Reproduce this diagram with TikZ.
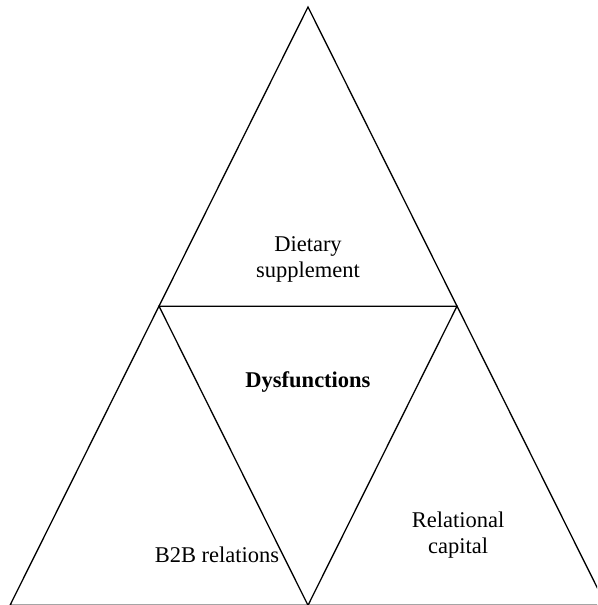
\documentclass[tikz,border=0pt]{standalone}
\usepackage{fontspec}
\setmainfont{Liberation Serif}
\usetikzlibrary{calc}
\begin{document}
\begin{tikzpicture}[x=1pt,y=-1pt,
  edge/.style={line width=1.3pt, line join=miter},
  lbl/.style={align=center, inner sep=0pt, font=\fontsize{22.5}{26}\selectfont}]
  \useasboundingbox (0,0) rectangle (597,605);
  \clip (0,0) rectangle (597,605);
  % Sommets du grand triangle
  \coordinate (apex) at (308,7);
  \coordinate (baseL) at (10,605.3);
  \coordinate (baseR) at (606,605.3);
  % Milieux des c\^ot\'es
  \coordinate (midL) at ($(apex)!0.5!(baseL)$);
  \coordinate (midR) at ($(apex)!0.5!(baseR)$);
  \coordinate (midB) at ($(baseL)!0.5!(baseR)$);
  % Contour et triangle central
  \draw[edge] (apex) -- (baseL) -- (baseR) -- cycle;
  \draw[edge] (midL) -- (midR) -- (midB) -- cycle;
  % \'Etiquettes
  \node[lbl] (supp) at (308,259) {Dietary\\supplement};
  \node[lbl, font=\fontsize{22.5}{26}\selectfont\bfseries] (dysf) at (308,382) {Dysfunctions};
  \node[lbl] (b2b) at (217,555) {B2B relations};
  \node[lbl] (relcap) at (458,535) {Relational\\capital};
\end{tikzpicture}
\end{document}
